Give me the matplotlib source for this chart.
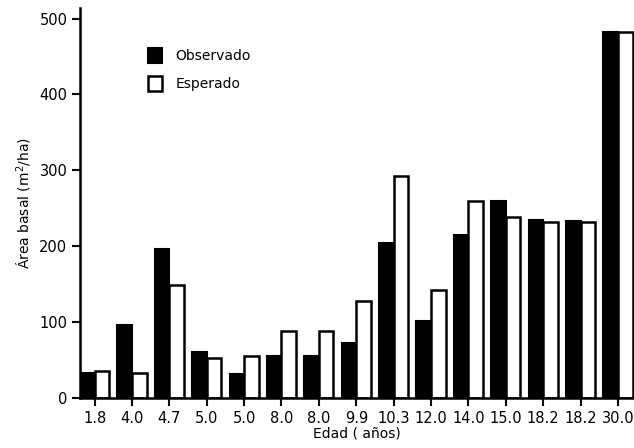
import matplotlib
matplotlib.use("Agg")
import matplotlib.pyplot as plt
import numpy as np

# edad de cada rodal (etiquetas del eje x)
edades = ["1.8", "4.0", "4.7", "5.0", "5.0", "8.0", "8.0", "9.9",
          "10.3", "12.0", "14.0", "15.0", "18.2", "18.2", "30.0"]
observado = [33, 96, 197, 60, 32, 56, 56, 72, 204, 101, 215, 260, 234, 233, 482]
esperado = [36, 33, 149, 53, 55, 88, 88, 128, 293, 142, 260, 238, 232, 232, 482]

plt.rcParams['font.family'] = ['DejaVu Sans']

fig = plt.figure(figsize=(6.34, 4.48), dpi=100)
ax = fig.add_axes([80/634, 50/448, 554/634, 390/448])

x = np.arange(len(edades))
w = 0.39
ax.bar(x - w/2, observado, w, color="black", edgecolor="black",
       linewidth=1.5, label="Observado")
ax.bar(x + w/2, esperado, w, color="white", edgecolor="black",
       linewidth=1.8, label="Esperado")

ax.set_xlim(-w, len(edades) - 1 + w + 0.04)
ax.set_ylim(0, 514)
ax.set_xticks(x)
ax.set_xticklabels(edades)
ax.set_yticks([0, 100, 200, 300, 400, 500])

for s in ["top", "right"]:
    ax.spines[s].set_visible(False)
ax.spines["left"].set_linewidth(1.8)
ax.spines["bottom"].set_linewidth(1.8)
ax.tick_params(axis="both", direction="out", length=6, width=1.5,
               labelsize=10.5, pad=3)

ax.set_xlabel("Edad ( años)", fontsize=10, labelpad=1)
ax.set_ylabel("Área basal (m$^2$/ha)", fontsize=10, labelpad=4)

ax.legend(loc="upper left", bbox_to_anchor=(0.1, 0.93), frameon=False,
          fontsize=10, handlelength=1.0, handleheight=1.3,
          handletextpad=1.0, labelspacing=0.9)

fig.savefig("out.png", dpi=100)
